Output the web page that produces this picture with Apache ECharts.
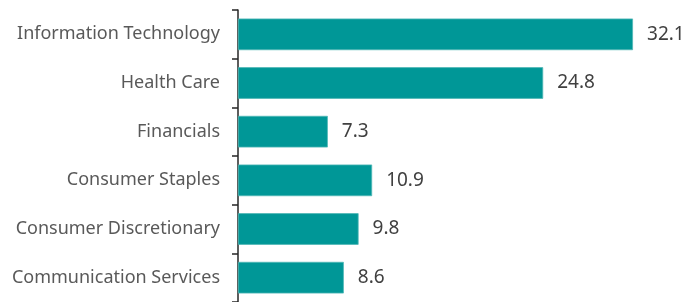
<!DOCTYPE html>
<html>
<head>
<meta charset="utf-8">
<script src="https://cdn.jsdelivr.net/npm/echarts@6/dist/echarts.min.js"></script>
<style>
  html, body { margin: 0; padding: 0; background: #fff; }
  #bar { width: 693px; height: 302px; }
</style>
</head>
<body>
<div id="bar"></div>
<script>
// sectors from bottom to top (category axis starts at bottom)
let sectors = ['Communication Services', 'Consumer Discretionary', 'Consumer Staples', 'Financials', 'Health Care', 'Information Technology'];
let weights = [8.6, 9.8, 10.9, 7.3, 24.8, 32.1];

var myChartBar = echarts.init(document.getElementById('bar'));

var optionBar = {
    animation: false,
    grid: {
        left: 238,
        right: 12,
        top: 10,
        bottom: -2
    },
    xAxis: {
        type: 'value',
        min: 0,
        max: 36,
        show: false
    },
    yAxis: {
        type: 'category',
        data: sectors,
        axisLine: {
            lineStyle: { color: '#262626', width: 1.5 }
        },
        axisTick: {
            show: true,
            length: 6,
            lineStyle: { color: '#262626', width: 1.5 }
        },
        axisLabel: {
            margin: 18,
            fontFamily: 'Noto Sans',
            fontSize: 18,
            color: '#595959'
        }
    },
    series: [
        {
            type: 'bar',
            data: weights,
            barWidth: '65%',
            itemStyle: {
                color: '#009797',
                borderColor: '#4fb8b6',
                borderWidth: 0.8
            },
            label: {
                show: true,
                position: 'right',
                distance: 14,
                fontFamily: 'Noto Sans',
                fontSize: 19,
                color: '#404040',
                formatter: p => p.value.toFixed(1)
            }
        }
    ]
};

myChartBar.setOption(optionBar);
</script>
</body>
</html>
